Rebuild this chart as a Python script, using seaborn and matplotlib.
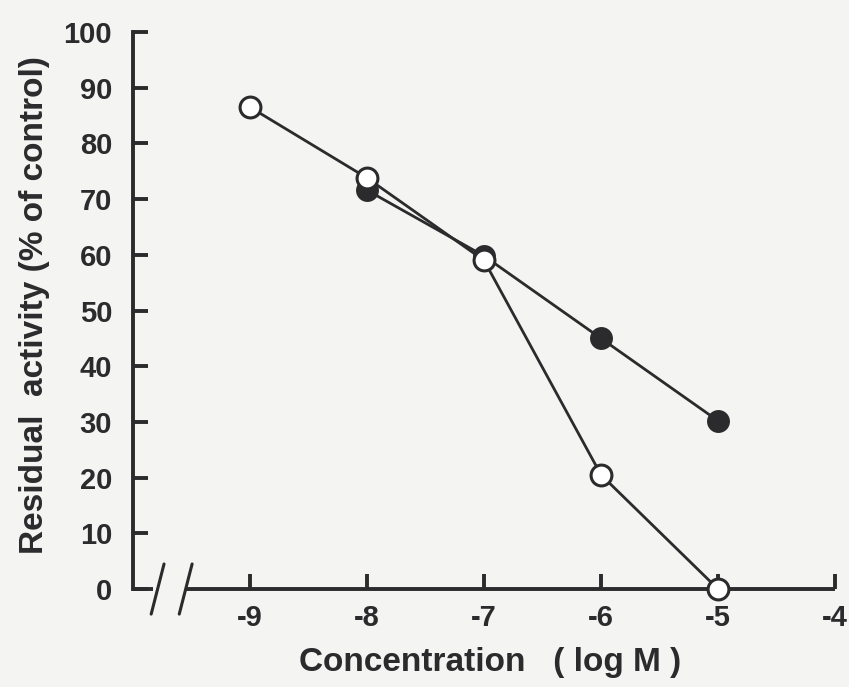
import pandas as pd
import matplotlib.pyplot as plt
import seaborn as sns

# values
conc_open = [-9, -8, -7, -6, -5]
act_open = [86.5, 73.8, 59.0, 20.5, 0.0]
conc_filled = [-8, -7, -6, -5]
act_filled = [71.6, 59.8, 45.0, 30.2]

xticks = [-9, -8, -7, -6, -5, -4]
yticks = [0, 10, 20, 30, 40, 50, 60, 70, 80, 90, 100]

open_df = pd.DataFrame({'conc': conc_open, 'act': act_open})
filled_df = pd.DataFrame({'conc': conc_filled, 'act': act_filled})

sns.set_style('ticks')
plt.rcParams['font.family'] = ['Liberation Sans', 'DejaVu Sans']
plt.rcParams['font.weight'] = 'bold'
plt.rcParams['axes.unicode_minus'] = False

ink = '#2b2a2c'
bg = '#f4f4f2'

fig = plt.figure(figsize=(8.49, 6.87), dpi=100, facecolor=bg)
ax = fig.add_axes([0.1567, 0.1426, 0.8268, 0.8108])
ax.set_facecolor(bg)

sns.lineplot(data=filled_df, x='conc', y='act', ax=ax, color=ink, lw=2,
             marker='o', markersize=15, markerfacecolor=ink,
             markeredgecolor=ink, markeredgewidth=1.5, clip_on=False, zorder=3)
sns.lineplot(data=open_df, x='conc', y='act', ax=ax, color=ink, lw=2,
             marker='o', markersize=15, markerfacecolor='white',
             markeredgecolor=ink, markeredgewidth=2.2, clip_on=False, zorder=4)

ax.set_xlim(-10, -4)
ax.set_ylim(0, 100)
ax.set_xticks(xticks)
ax.set_yticks(yticks)

ax.spines['top'].set_visible(False)
ax.spines['right'].set_visible(False)
ax.spines['bottom'].set_visible(False)
ax.spines['left'].set_linewidth(2.8)
ax.spines['left'].set_color(ink)

# broken x axis
ax.plot([-10, -9.83], [0, 0], color=ink, lw=2.8, clip_on=False, zorder=2,
        solid_capstyle='butt')
ax.plot([-9.56, -4], [0, 0], color=ink, lw=2.8, clip_on=False, zorder=2,
        solid_capstyle='butt')
for cx in [-9.79, -9.55]:
    ax.plot([cx - 0.055, cx + 0.055], [-4.5, 4.5], color=ink, lw=2.2,
            clip_on=False, zorder=2)

ax.tick_params(axis='both', direction='in', length=11, width=2.8, color=ink,
               labelsize=21, labelcolor=ink)
ax.tick_params(axis='y', pad=15)
ax.tick_params(axis='x', pad=11)

ax.set_xlabel('Concentration   ( log M )', fontsize=24, fontweight='bold',
              color=ink)
ax.set_ylabel('Residual  activity (% of control)', fontsize=24,
              fontweight='bold', color=ink)
ax.xaxis.set_label_coords(0.508, -0.104)
ax.yaxis.set_label_coords(-0.118, 0.51)

fig.savefig('out.png', dpi=100, facecolor=bg)
